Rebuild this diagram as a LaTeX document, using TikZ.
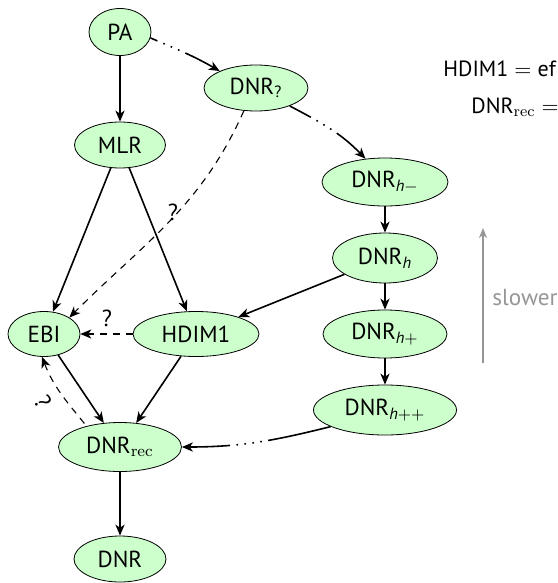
\documentclass[tikz,border=0pt]{standalone}
\usepackage{amsmath}
\usepackage{fontspec}
\usetikzlibrary{shapes.geometric,arrows.meta,calc}
\newfontfamily\nodefont{PT Sans}
\definecolor{nodegreen}{RGB}{204,255,204}
\definecolor{slowgray}{RGB}{150,150,150}
\begin{document}
\begin{tikzpicture}[x=0.5pt,y=-0.5pt,
  ell/.style={ellipse, draw=black, line width=0.4pt, fill=nodegreen, inner sep=0pt,
    font=\nodefont\fontsize{11.6}{13}\selectfont},
  lab/.style={font=\nodefont\fontsize{11.6}{13}\selectfont, inner sep=0pt},
  eqlab/.style={font=\nodefont\fontsize{11}{13}\selectfont, inner sep=0pt},
  tipstyle/.tip={Stealth[length=5.5pt,width=4.6pt,inset=1.6pt]},
  arr/.style={line width=0.8pt, -tipstyle},
  dsh/.style={line width=0.55pt, dash pattern=on 3.5pt off 3pt},
  dotA/.style={dash pattern=on 3.8pt off 3.2pt on 0.8pt off 3.2pt on 0.8pt off 3.2pt on 0.8pt off 3.2pt on 80pt},
  dotB/.style={dash pattern=on 12pt off 3.2pt on 0.8pt off 3.2pt on 0.8pt off 3.2pt on 0.8pt off 3.2pt on 80pt},
  dotC/.style={dash pattern=on 32pt off 3.2pt on 0.8pt off 3.2pt on 0.8pt off 3.2pt on 0.8pt off 3.2pt on 0.8pt off 3.2pt on 100pt},
  slowarr/.style={draw=slowgray, line width=0.8pt, -{Stealth[length=5pt,width=4pt,inset=1.5pt]}}
]
\useasboundingbox (0,0) rectangle (557,583);

% nodes
\node[ell, minimum width=31pt, minimum height=23.5pt] (PA) at (120,32) {PA};
\node[ell, minimum width=45.5pt, minimum height=23pt] (MLR) at (120,145) {MLR};
\node[ell, minimum width=52pt, minimum height=23pt] (DNRq) at (256,88) {DNR\textsubscript{?}};
\node[ell, minimum width=63pt, minimum height=24pt] (hm) at (385,182) {DNR$_{\textit{h}-}$};
\node[ell, minimum width=52.5pt, minimum height=25pt] (h) at (385,258) {DNR$_{\textit{h}}$};
\node[ell, minimum width=62pt, minimum height=24pt] (hp) at (385,334) {DNR$_{\textit{h}+}$};
\node[ell, minimum width=71.5pt, minimum height=25pt] (hpp) at (385,410) {DNR$_{\textit{h}++}$};
\node[ell, minimum width=36pt, minimum height=22.5pt] (EBI) at (44,334) {EBI};
\node[ell, minimum width=63pt, minimum height=22.5pt] (HDIM) at (196,334) {HDIM1};
\node[ell, minimum width=61.5pt, minimum height=24.5pt] (rec) at (120,447) {DNR$_{\mathrm{rec}}$};
\node[ell, minimum width=46pt, minimum height=23pt] (DNR) at (120,559) {DNR};

% text at top right
\node[eqlab, anchor=base west] (eq1) at (443,77) {$\mbox{HDIM1} = \mbox{ef}$};
\node[eqlab, anchor=base west] (eq2) at (471,113) {$\mbox{DNR}_{\mathrm{rec}} =$};

% slower
\coordinate (sb) at (483,363);
\coordinate (st) at (483,228);
\draw[slowarr] (sb) -- (st);
\node[lab, text=slowgray, anchor=west] (slow) at (492,298) {slower};

% question marks
\node[lab] (q1) at (173,212) {?};
\node[lab] (q2) at (107,318) {?};
\node[lab, rotate=-60] (q3) at (43,402) {?};

% edges
\draw[arr] (PA) -- (MLR);
\draw[arr, dotA] (PA.349) to[out=-23, in=150] (DNRq.155);
\draw[arr, dotB] (DNRq.332) to[out=-28, in=134] (hm.130);
\draw[arr] (hm) -- (h);
\draw[arr] (h) -- (hp);
\draw[arr] (hp) -- (hpp);
\draw[arr] (h) -- (HDIM);
\draw[arr] (MLR) -- (EBI);
\draw[arr] (MLR) -- (HDIM);
\draw[arr, dsh] (DNRq.242) to[out=246, in=45] (EBI.33);
\draw[arr, dsh] (HDIM) -- (EBI);
\draw[arr] (EBI) -- (rec);
\draw[arr] (HDIM) -- (rec);
\draw[line width=0.8pt, tipstyle-, dsh] (EBI.265) to[out=291, in=129] (rec.148);
\draw[arr, dotC] (hpp.197) to[out=194, in=0] (rec.east);
\draw[arr] (rec) -- (DNR);
\end{tikzpicture}
\end{document}
